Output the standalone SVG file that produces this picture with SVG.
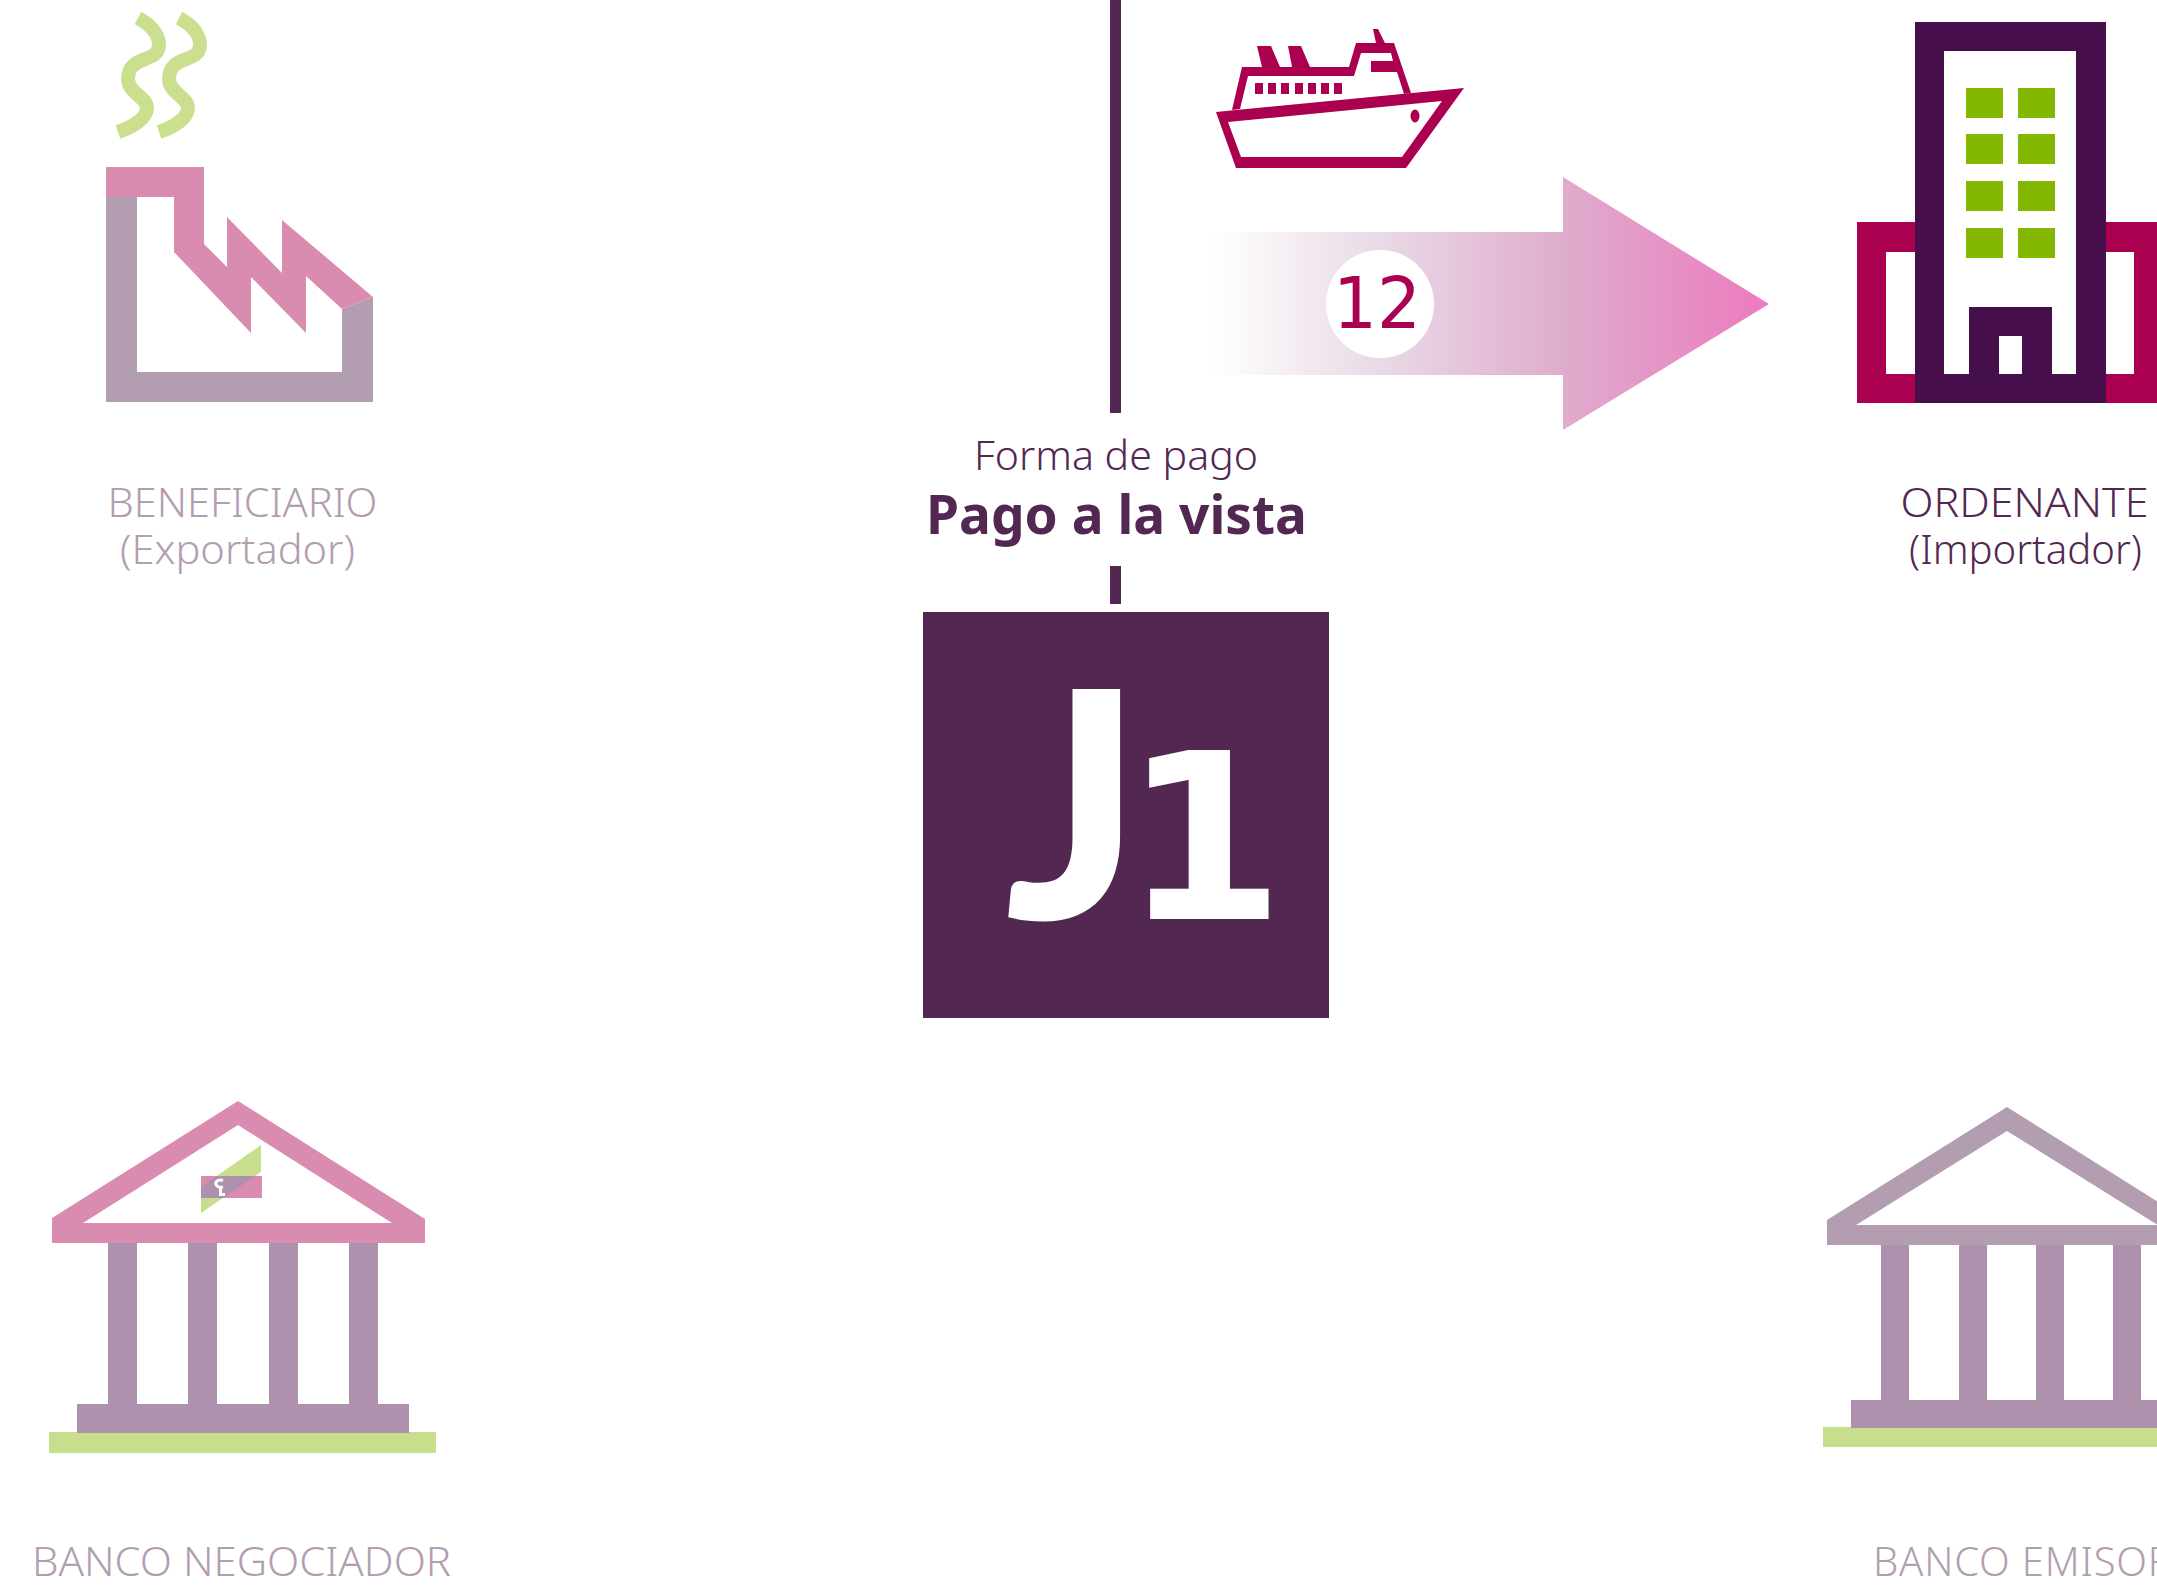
<svg xmlns="http://www.w3.org/2000/svg" width="2157" height="1590" viewBox="0 0 2157 1590">
<style>
.t{font-family:"Noto Sans","Liberation Sans",sans-serif;font-weight:300;font-size:40px}
.g{fill:#B29DB1}.d{fill:#522853}
.pink{fill:#D98CB0}.col{fill:#AD91AD}.lime{fill:#C7DE8C}.ship{fill:#AA004F;fill-rule:evenodd}
.tw{fill:#470F4C}.win{fill:#84B700}
.smoke{fill:none;stroke:#CBE08F;stroke-width:14}
</style>
<defs>
<linearGradient id="ag" gradientUnits="userSpaceOnUse" x1="1211" y1="0" x2="1769" y2="0">
<stop offset="0" stop-color="#fff"/><stop offset=".3" stop-color="#E9DAE6"/><stop offset=".63" stop-color="#DFACCD"/><stop offset="1" stop-color="#EC7ABD"/>
</linearGradient>
</defs>
<rect width="2157" height="1590" fill="#fff"/>
<g id="connectors">
<rect class="d" x="1110" y="0" width="11" height="413"/>
<rect class="d" x="1110" y="566" width="11" height="38"/>
<path fill="url(#ag)" d="M1211 232H1563V177L1769 304L1563 430V375H1211Z"/>
<circle cx="1380" cy="304" r="54" fill="#fff"/>
<text x="1333" y="328" textLength="88" lengthAdjust="spacingAndGlyphs" style="font-family:'DejaVu Sans',sans-serif;font-size:71px;fill:#AA004F">12</text>
</g>
<g id="beneficiario">
<path class="smoke" d="M138 18C155 27 159 38 159 45C159 64 128 54 128 79C128 93 147 97 147 108C147 118 133 127 118 132"/>
<path class="smoke" d="M179 18C196 27 200 38 200 45C200 64 169 54 169 79C169 93 188 97 188 108C188 118 174 127 159 132"/>
<path class="g" d="M106 197V402H373V297L342 309V372H137V197Z"/>
<path class="pink" d="M106 167H204V244L227 267V217L282 273V220L373 297L342 309L306 276V333L251 277V333L174 252V197H106Z"/>
<text class="t g" x="242.500" y="517" text-anchor="middle" textLength="270" lengthAdjust="spacingAndGlyphs">BENEFICIARIO</text>
<text class="t g" x="237.500" y="564" text-anchor="middle" textLength="235" lengthAdjust="spacingAndGlyphs">(Exportador)</text>
</g>
<g id="barco">
<path class="ship" d="M1216 112L1464 88L1406 168H1236ZM1228 122L1241 157H1402L1442 101Z"/>
<path class="ship" d="M1232 110L1242 67H1262L1257 46H1271L1280 67H1292L1288 46H1301L1310 67H1349L1356 43H1376L1373 29H1378L1385 43H1394L1411 93L1404 94L1397 72H1371V61H1393L1391 53H1361L1354 76H1248L1240 109Z"/>
<g class="ship">
<rect x="1255" y="83" width="8" height="11"/><rect x="1268" y="83" width="8" height="11"/><rect x="1281" y="83" width="8" height="11"/><rect x="1295" y="83" width="8" height="11"/><rect x="1308" y="83" width="8" height="11"/><rect x="1321" y="83" width="8" height="11"/><rect x="1334" y="83" width="8" height="11"/>
<ellipse cx="1415" cy="116" rx="4.500" ry="6.500"/>
</g>
</g>
<g id="ordenante">
<path class="ship" d="M1857 222H1915V252H1886V374H1915V403H1857Z"/>
<path class="ship" d="M2106 222H2170V403H2106V374H2134V252H2106Z"/>
<path class="tw" fill-rule="evenodd" d="M1915 22H2106V403H1915ZM1944 51V374H1969V307H2052V374H2076V51ZM1999 336V374H2022V336Z"/>
<g class="win">
<rect x="1966" y="88" width="37" height="30"/><rect x="2018" y="88" width="37" height="30"/>
<rect x="1966" y="134" width="37" height="30"/><rect x="2018" y="134" width="37" height="30"/>
<rect x="1966" y="181" width="37" height="30"/><rect x="2018" y="181" width="37" height="30"/>
<rect x="1966" y="228" width="37" height="30"/><rect x="2018" y="228" width="37" height="30"/>
</g>
<text class="t d" x="2024.500" y="517" text-anchor="middle" textLength="248" lengthAdjust="spacingAndGlyphs">ORDENANTE</text>
<text class="t d" x="2025.500" y="564" text-anchor="middle" textLength="233" lengthAdjust="spacingAndGlyphs">(Importador)</text>
</g>
<g id="forma-pago">
<text class="t d" x="1116" y="470" text-anchor="middle" textLength="284" lengthAdjust="spacingAndGlyphs">Forma de pago</text>
<text class="d" x="1116.500" y="534" text-anchor="middle" textLength="381" lengthAdjust="spacingAndGlyphs" style="font-family:'Noto Sans','Liberation Sans',sans-serif;font-weight:700;font-size:53px">Pago a la vista</text>
</g>
<g id="j1">
<rect class="d" x="923" y="612" width="406" height="406"/>
<text y="919" fill="#fff" style="font-family:Lato,'Liberation Sans',sans-serif;font-weight:900"><tspan x="1005" font-size="317">J</tspan><tspan x="1123" y="919" font-size="232" style="font-family:'DejaVu Sans',sans-serif;font-weight:700">1</tspan></text>
</g>
<g id="banco-negociador">
<rect class="lime" x="49" y="1432" width="387" height="21"/>
<path class="col" d="M108 1243H137V1404H188V1243H217V1404H269V1243H298V1404H349V1243H378V1404H409V1433H77V1404H108Z"/>
<path class="pink" fill-rule="evenodd" d="M238 1101L425 1219V1243H52V1218ZM238 1125L83 1223H392Z"/>
<path class="lime" d="M261 1145V1172L201 1213V1187Z"/>
<rect class="pink" x="201" y="1176" width="61" height="22"/>
<path class="col" d="M201 1187L216.500 1176H254.700L223.600 1198H201Z"/>
<path fill="none" stroke="#fff" stroke-width="3" d="M223 1180.500C217 1178.500 214 1183 217 1186C218.500 1187.500 221 1187.500 223 1187M220.500 1187V1194.500H225"/>
<text class="t g" x="241.500" y="1576" text-anchor="middle" textLength="419" lengthAdjust="spacingAndGlyphs">BANCO NEGOCIADOR</text>
</g>
<g id="banco-emisor">
<rect class="lime" x="1823" y="1427" width="380" height="20"/>
<path class="col" d="M1881 1245H1909V1400H1959V1245H1987V1400H2036V1245H2064V1400H2113V1245H2141V1400H2170V1428H1851V1400H1881Z"/>
<path class="g" fill-rule="evenodd" d="M2007 1107L2187 1220V1245H1827V1220ZM2007 1131L1856 1225H2158Z"/>
<text class="t g" x="1873" y="1576" style="letter-spacing:.8px">BANCO EMISOR</text>
</g>
</svg>
